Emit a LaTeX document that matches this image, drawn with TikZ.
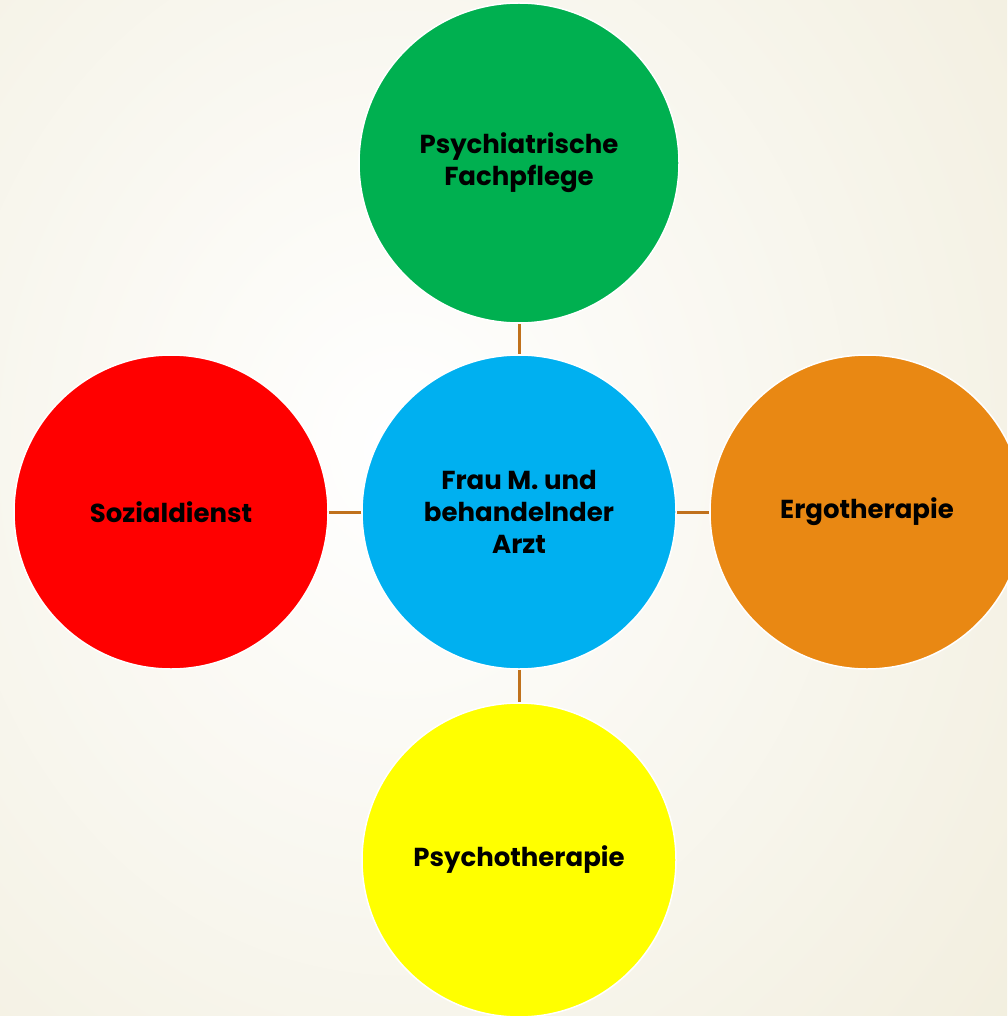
\documentclass[tikz,border=0pt]{standalone}
\usepackage{fontspec}
\setmainfont{Poppins}
\usetikzlibrary{calc}
\definecolor{cgreen}{HTML}{00B050}
\definecolor{cblue}{HTML}{00B0F0}
\definecolor{cred}{HTML}{FF0000}
\definecolor{corange}{HTML}{E98813}
\definecolor{cyellow}{HTML}{FFFF00}
\definecolor{clink}{HTML}{C0711C}
\definecolor{cream}{HTML}{F0ECDA}
\tikzset{
  bubble/.style={circle, draw=white, line width=1.5pt, inner sep=0pt, align=center,
    font=\fontsize{26}{32}\selectfont\bfseries, text=black},
  link/.style={draw=clink, line width=3pt}
}
\begin{document}
\begin{tikzpicture}[x=1pt,y=-1pt]
\useasboundingbox (0,0) rectangle (1007,1016);
\begin{scope}
\clip (0,0) rectangle (1007,1016);
\shade[inner color=white, outer color=cream] (-500,-600) rectangle (1300,1500);
\end{scope}
\node[bubble, fill=cgreen, minimum size=320pt] (top) at (519,163) {Psychiatrische\\Fachpflege};
\node[bubble, fill=cblue, minimum size=314pt] (mid) at (519,512) {Frau M. und\\behandelnder\\Arzt};
\node[bubble, fill=cred, minimum size=314pt] (left) at (171,512) {Sozialdienst};
\node[bubble, fill=corange, minimum size=314pt] (right) at (867,512) {Ergotherapie};
\node[bubble, fill=cyellow, minimum size=314pt] (bot) at (519,860) {Psychotherapie};
\draw[link] (top) -- (mid);
\draw[link] (mid) -- (left);
\draw[link] (mid) -- (right);
\draw[link] (mid) -- (bot);
\end{tikzpicture}
\end{document}
